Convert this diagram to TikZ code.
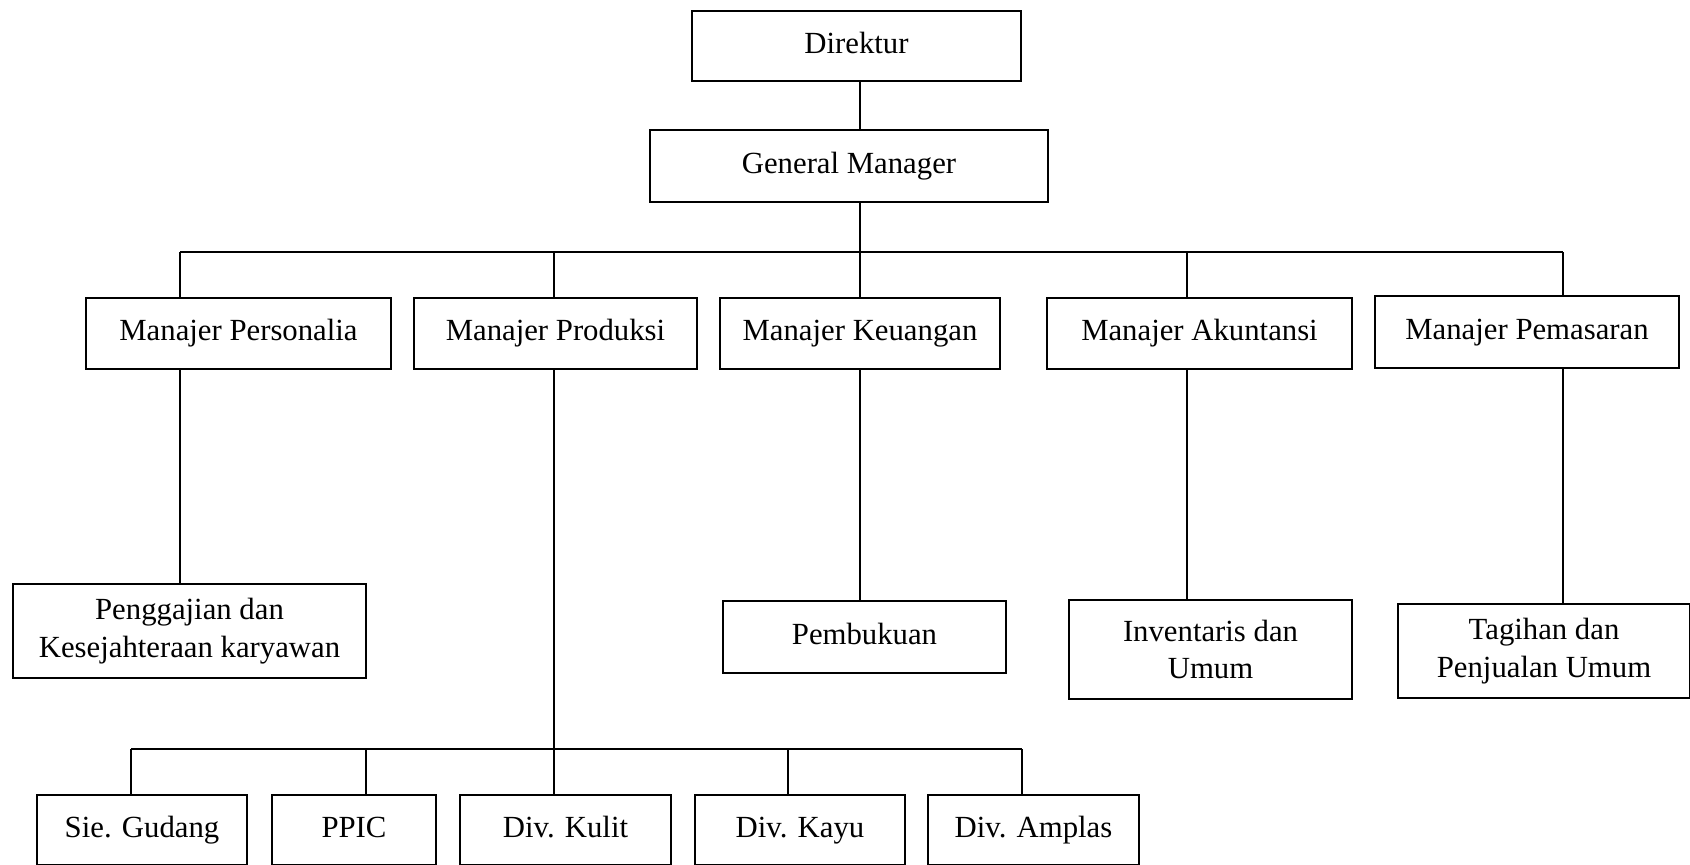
\documentclass[tikz,border=0pt]{standalone}
\usepackage{fontspec}
\setmainfont{Liberation Serif}
\usepackage{tikz}

\tikzset{
  jabatan/.style={draw, line width=0.8pt, inner sep=0pt, align=center,
    font=\fontsize{17.5}{21.5}\selectfont},
  satubaris/.style={jabatan, text height=12.5pt, text depth=4pt},
  garis/.style={line width=0.8pt}
}

\begin{document}
\begin{tikzpicture}[x=0.02cm,y=-0.02cm]
\clip (0,0) rectangle (1690,865);
% pimpinan
\node[satubaris, minimum width=6.58cm, minimum height=1.40cm] (dir) at (856.5,46) {Direktur};
\node[satubaris, minimum width=7.96cm, minimum height=1.44cm] (gm) at (849,166) {General Manager};
% manajer
\node[satubaris, minimum width=6.10cm, minimum height=1.42cm] (mpers) at (238.5,333.5) {Manajer Personalia};
\node[satubaris, minimum width=5.66cm, minimum height=1.42cm] (mprod) at (555.5,333.5) {Manajer Produksi};
\node[satubaris, minimum width=5.60cm, minimum height=1.42cm] (mkeu) at (860,333.5) {Manajer Keuangan};
\node[satubaris, minimum width=6.10cm, minimum height=1.42cm] (makun) at (1199.5,333.5) {Manajer Akuntansi};
\node[satubaris, minimum width=6.08cm, minimum height=1.44cm] (mpem) at (1527,332) {Manajer Pemasaran};
% bagian
\node[jabatan, minimum width=7.06cm, minimum height=1.88cm] (peng) at (189.5,631) {Penggajian dan\\Kesejahteraan karyawan};
\node[satubaris, minimum width=5.66cm, minimum height=1.44cm] (pemb) at (864.5,637) {Pembukuan};
\node[jabatan, minimum width=5.66cm, minimum height=1.98cm] (inv) at (1210.5,649.5) {Inventaris dan\\Umum};
\node[jabatan, minimum width=5.84cm, minimum height=1.88cm] (tag) at (1544,651) {Tagihan dan\\Penjualan Umum};
% divisi produksi
\node[satubaris, minimum width=4.20cm, minimum height=1.40cm] (sie) at (142,830) {Sie. Gudang};
\node[satubaris, minimum width=3.28cm, minimum height=1.40cm] (ppic) at (354,830) {PPIC};
\node[satubaris, minimum width=4.22cm, minimum height=1.40cm] (kulit) at (565.5,830) {Div. Kulit};
\node[satubaris, minimum width=4.20cm, minimum height=1.40cm] (kayu) at (800,830) {Div. Kayu};
\node[satubaris, minimum width=4.22cm, minimum height=1.40cm] (amplas) at (1033.5,830) {Div. Amplas};

% titik cabang
\foreach \n/\x in {j1/180,j2/554,j3/860,j4/1187,j5/1563}
  \coordinate (\n) at (\x,252);
\foreach \n/\x in {k1/131,k2/366,k3/554,k4/788,k5/1022}
  \coordinate (\n) at (\x,749);

\draw[garis] (dir.south -| j3) -- (gm.north -| j3);
\draw[garis] (gm.south -| j3) -- (j3);
\draw[garis] (j1) -- (j5);
\foreach \j/\m in {j1/mpers,j2/mprod,j3/mkeu,j4/makun,j5/mpem}
  \draw[garis] (\j) -- (\m.north -| \j);
\draw[garis] (mpers.south -| j1) -- (peng.north -| j1);
\draw[garis] (mkeu.south -| j3) -- (pemb.north -| j3);
\draw[garis] (makun.south -| j4) -- (inv.north -| j4);
\draw[garis] (mpem.south -| j5) -- (tag.north -| j5);
\draw[garis] (mprod.south -| j2) -- (k3);
\draw[garis] (k1) -- (k5);
\foreach \k/\m in {k1/sie,k2/ppic,k3/kulit,k4/kayu,k5/amplas}
  \draw[garis] (\k) -- (\m.north -| \k);
\end{tikzpicture}
\end{document}
